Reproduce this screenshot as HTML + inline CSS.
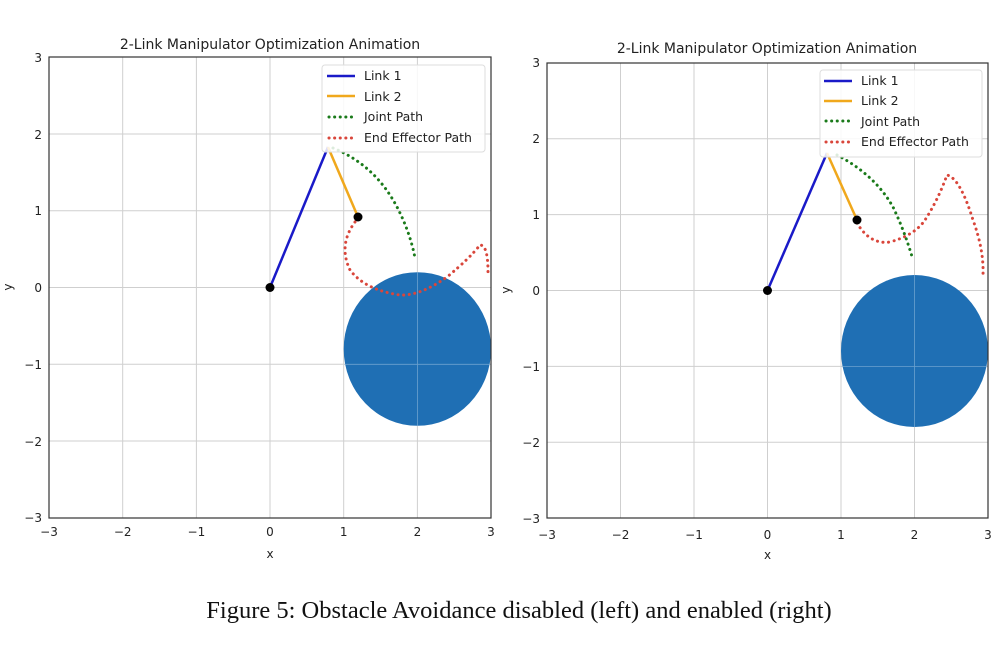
<!DOCTYPE html>
<html><head><meta charset="utf-8"><style>
body{margin:0;background:#fff;}
svg text{font-family:"DejaVu Sans","Liberation Sans",sans-serif;fill:#222;}
</style></head><body>
<svg width="1000" height="667" viewBox="0 0 1000 667" xmlns="http://www.w3.org/2000/svg">
<rect width="1000" height="667" fill="#fff"/>
<!-- LEFT -->
<g stroke="#cfcfcf" stroke-width="1">
<line x1="122.7" y1="57" x2="122.7" y2="518"/><line x1="196.4" y1="57" x2="196.4" y2="518"/><line x1="270" y1="57" x2="270" y2="518"/><line x1="343.7" y1="57" x2="343.7" y2="518"/><line x1="417.4" y1="57" x2="417.4" y2="518"/>
<line x1="49" y1="134" x2="491" y2="134"/><line x1="49" y1="210.7" x2="491" y2="210.7"/><line x1="49" y1="287.5" x2="491" y2="287.5"/><line x1="49" y1="364.3" x2="491" y2="364.3"/><line x1="49" y1="441" x2="491" y2="441"/>
</g>
<ellipse cx="417.4" cy="349" rx="73.7" ry="76.8" fill="#1f6fb4"/>
<g stroke="#9ec3e0" stroke-width="0.8" opacity="0.6"><line x1="417.4" y1="272" x2="417.4" y2="426"/><line x1="344" y1="364.3" x2="491" y2="364.3"/></g>
<path d="M333,148 Q375,165 397,207 Q410,232 415,258" fill="none" stroke="#1a7a1a" stroke-width="3" stroke-dasharray="0.1,5.5" stroke-linecap="round"/>
<path d="M355,222 Q338,245 350,270 Q365,290 400,295 Q420,296 447,277 Q470,258 480,245 Q488,245 488,272" fill="none" stroke="#d9463b" stroke-width="3" stroke-dasharray="0.1,5.5" stroke-linecap="round"/>
<line x1="270" y1="287.5" x2="328" y2="147" stroke="#1a1ac8" stroke-width="2.5"/>
<line x1="328" y1="147" x2="358" y2="217" stroke="#f0a81c" stroke-width="2.5"/>
<circle cx="270" cy="287.5" r="4.5" fill="#000"/><circle cx="358" cy="217" r="4.5" fill="#000"/>
<rect x="49" y="57" width="442" height="461" fill="none" stroke="#333" stroke-width="1.2"/>
<rect x="322" y="65" width="163" height="87" rx="3" fill="#fff" fill-opacity="0.85" stroke="#ddd"/>
<line x1="327" y1="76" x2="355" y2="76" stroke="#1a1ac8" stroke-width="2.5"/>
<line x1="327" y1="96" x2="355" y2="96" stroke="#f0a81c" stroke-width="2.5"/>
<line x1="329" y1="117" x2="355" y2="117" stroke="#1a7a1a" stroke-width="3" stroke-dasharray="0.1,5.5" stroke-linecap="round"/>
<line x1="329" y1="138" x2="355" y2="138" stroke="#d9463b" stroke-width="3" stroke-dasharray="0.1,5.5" stroke-linecap="round"/>
<g font-size="12.5"><text x="364" y="80">Link 1</text><text x="364" y="101">Link 2</text><text x="364" y="121">Joint Path</text><text x="364" y="142">End Effector Path</text></g>
<text x="270" y="49" font-size="14" text-anchor="middle">2-Link Manipulator Optimization Animation</text>
<g font-size="12" text-anchor="middle"><text x="49" y="536">−3</text><text x="122.7" y="536">−2</text><text x="196.4" y="536">−1</text><text x="270" y="536">0</text><text x="343.7" y="536">1</text><text x="417.4" y="536">2</text><text x="491" y="536">3</text><text x="270" y="558">x</text></g>
<g font-size="12" text-anchor="end"><text x="42" y="62">3</text><text x="42" y="139">2</text><text x="42" y="215">1</text><text x="42" y="292">0</text><text x="42" y="369">−1</text><text x="42" y="446">−2</text><text x="42" y="522">−3</text></g>
<text x="12" y="287" font-size="12" text-anchor="middle" transform="rotate(-90 12 287)">y</text>
<!-- RIGHT -->
<g stroke="#cfcfcf" stroke-width="1">
<line x1="620.5" y1="63" x2="620.5" y2="518"/><line x1="694" y1="63" x2="694" y2="518"/><line x1="767.5" y1="63" x2="767.5" y2="518"/><line x1="841" y1="63" x2="841" y2="518"/><line x1="914.5" y1="63" x2="914.5" y2="518"/>
<line x1="547" y1="138.7" x2="988" y2="138.7"/><line x1="547" y1="214.6" x2="988" y2="214.6"/><line x1="547" y1="290.5" x2="988" y2="290.5"/><line x1="547" y1="366.4" x2="988" y2="366.4"/><line x1="547" y1="442.3" x2="988" y2="442.3"/>
</g>
<ellipse cx="914.5" cy="351" rx="73.5" ry="76" fill="#1f6fb4"/>
<g stroke="#9ec3e0" stroke-width="0.8" opacity="0.6"><line x1="914.5" y1="275" x2="914.5" y2="427"/><line x1="841" y1="366.4" x2="988" y2="366.4"/></g>
<path d="M837,155 Q875,175 893,207 Q905,232 913,260" fill="none" stroke="#1a7a1a" stroke-width="3" stroke-dasharray="0.1,5.5" stroke-linecap="round"/>
<path d="M857,223 Q870,245 890,242 Q915,235 925,220 Q938,200 947,175 Q960,178 973,220 Q984,250 983,275" fill="none" stroke="#d9463b" stroke-width="3" stroke-dasharray="0.1,5.5" stroke-linecap="round"/>
<line x1="767.5" y1="290.5" x2="827" y2="153" stroke="#1a1ac8" stroke-width="2.5"/>
<line x1="827" y1="153" x2="857" y2="220" stroke="#f0a81c" stroke-width="2.5"/>
<circle cx="767.5" cy="290.5" r="4.5" fill="#000"/><circle cx="857" cy="220" r="4.5" fill="#000"/>
<rect x="547" y="63" width="441" height="455" fill="none" stroke="#333" stroke-width="1.2"/>
<rect x="820" y="70" width="162" height="87" rx="3" fill="#fff" fill-opacity="0.85" stroke="#ddd"/>
<line x1="824" y1="81" x2="852" y2="81" stroke="#1a1ac8" stroke-width="2.5"/>
<line x1="824" y1="101" x2="852" y2="101" stroke="#f0a81c" stroke-width="2.5"/>
<line x1="826" y1="121" x2="852" y2="121" stroke="#1a7a1a" stroke-width="3" stroke-dasharray="0.1,5.5" stroke-linecap="round"/>
<line x1="826" y1="142" x2="852" y2="142" stroke="#d9463b" stroke-width="3" stroke-dasharray="0.1,5.5" stroke-linecap="round"/>
<g font-size="12.5"><text x="861" y="85">Link 1</text><text x="861" y="105">Link 2</text><text x="861" y="126">Joint Path</text><text x="861" y="146">End Effector Path</text></g>
<text x="767" y="53" font-size="14" text-anchor="middle">2-Link Manipulator Optimization Animation</text>
<g font-size="12" text-anchor="middle"><text x="547" y="539">−3</text><text x="620.5" y="539">−2</text><text x="694" y="539">−1</text><text x="767.5" y="539">0</text><text x="841" y="539">1</text><text x="914.5" y="539">2</text><text x="988" y="539">3</text><text x="767.5" y="559">x</text></g>
<g font-size="12" text-anchor="end"><text x="540" y="67">3</text><text x="540" y="143">2</text><text x="540" y="219">1</text><text x="540" y="295">0</text><text x="540" y="371">−1</text><text x="540" y="447">−2</text><text x="540" y="523">−3</text></g>
<text x="510" y="290" font-size="12" text-anchor="middle" transform="rotate(-90 510 290)">y</text>
<text x="519" y="618" font-size="24.5" text-anchor="middle" style="font-family:'Liberation Serif',serif;fill:#111">Figure 5: Obstacle Avoidance disabled (left) and enabled (right)</text>
</svg>
</body></html>
